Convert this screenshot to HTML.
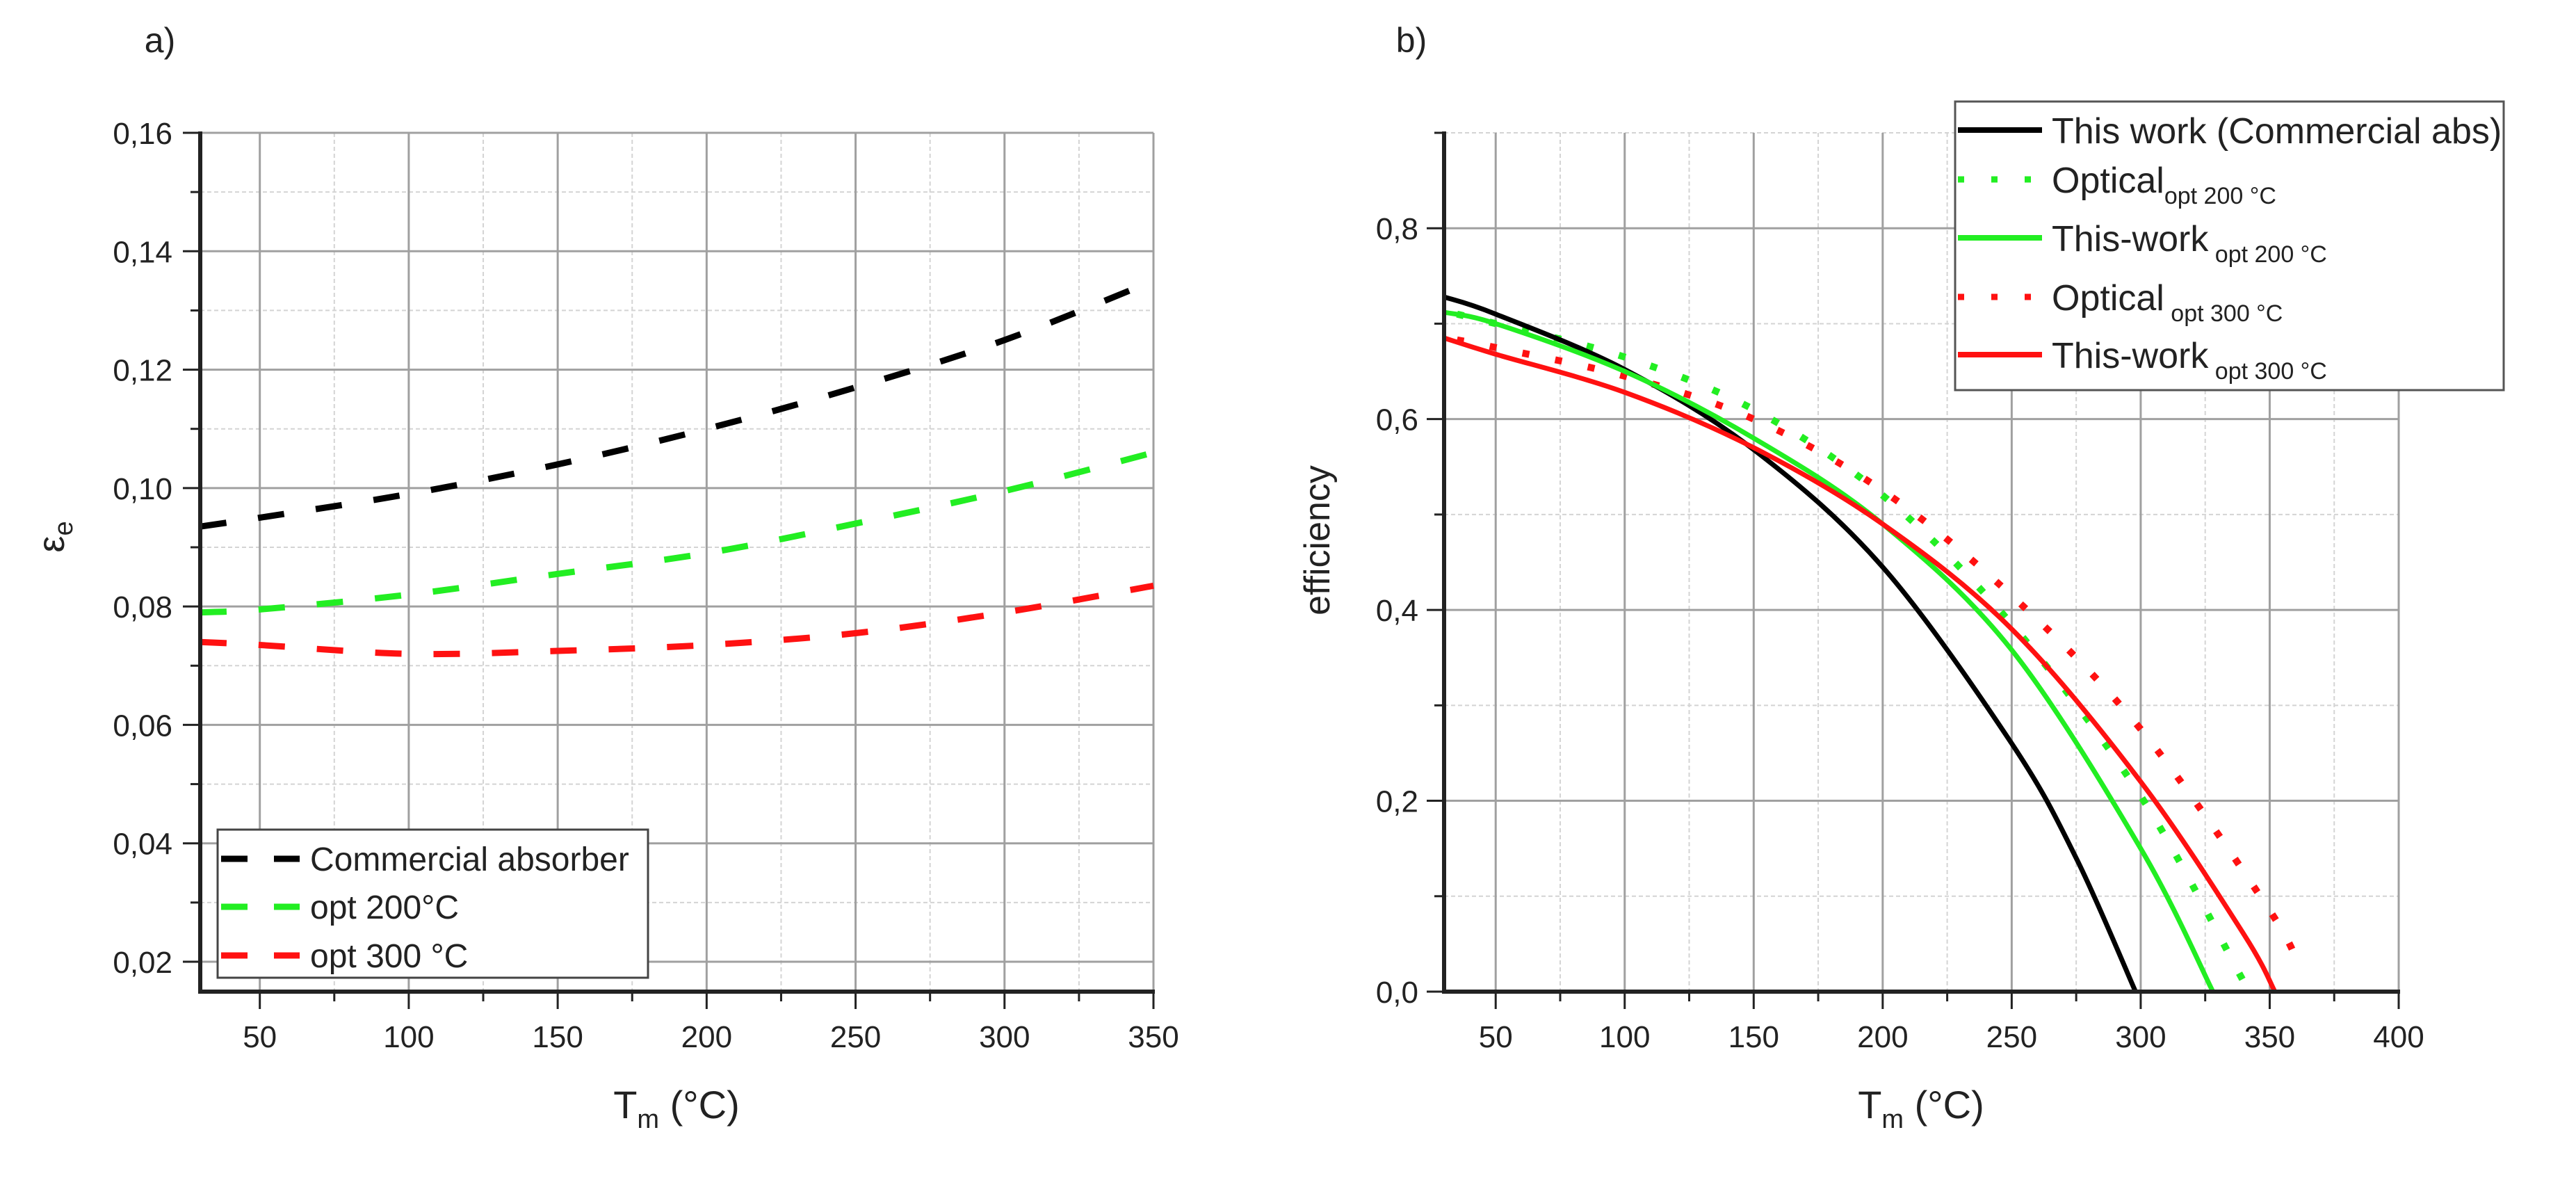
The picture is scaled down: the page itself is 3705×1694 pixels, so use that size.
<!DOCTYPE html>
<html><head><meta charset="utf-8">
<style>
html,body{margin:0;padding:0;background:#fff;}
svg{display:block;font-family:"Liberation Sans",Arial,sans-serif;}
</style></head>
<body>
<svg id="fig" width="3705" height="1694" viewBox="0 0 3705 1694" xmlns="http://www.w3.org/2000/svg">
<rect width="3705" height="1694" fill="#fff"/>
<g id="pa"></g>
<g id="pb"></g>
</svg>
<script>
// Panel a data
const aX = [30, 50, 100, 150, 200, 250, 300, 350];
const aCommercial = [0.0935, 0.095, 0.099, 0.104, 0.110, 0.117, 0.125, 0.135];
const aOpt200 = [0.079, 0.0795, 0.082, 0.0855, 0.089, 0.094, 0.0995, 0.106];
const aOpt300 = [0.074, 0.0735, 0.072, 0.0725, 0.0735, 0.0755, 0.079, 0.0835];
const aXTicks = [50, 100, 150, 200, 250, 300, 350];
const aYTicks = [0.02, 0.04, 0.06, 0.08, 0.10, 0.12, 0.14, 0.16];
const aYLabels = ["0,02", "0,04", "0,06", "0,08", "0,10", "0,12", "0,14", "0,16"];

// Panel b data
const bBlackX = [30, 50, 100, 150, 200, 250, 275, 298];
const bBlackY = [0.728, 0.710, 0.652, 0.568, 0.445, 0.260, 0.140, 0.0];
const bGreenX = [30, 50, 100, 150, 200, 250, 300, 328];
const bGreenY = [0.712, 0.700, 0.650, 0.580, 0.490, 0.358, 0.150, 0.0];
const bRedX = [30, 50, 100, 150, 200, 250, 300, 340, 352];
const bRedY = [0.685, 0.668, 0.628, 0.570, 0.490, 0.380, 0.220, 0.060, 0.0];
const bGreenDotX = [35, 50, 100, 150, 200, 250, 300, 340];
const bGreenDotY = [0.710, 0.700, 0.665, 0.610, 0.520, 0.385, 0.205, 0.010];
const bRedDotX = [35, 50, 100, 150, 200, 250, 300, 350, 362];
const bRedDotY = [0.683, 0.675, 0.645, 0.600, 0.525, 0.415, 0.275, 0.085, 0.022];
const bXTicks = [50, 100, 150, 200, 250, 300, 350, 400];
const bYTicks = [0.0, 0.2, 0.4, 0.6, 0.8];
const bYLabels = ["0,0", "0,2", "0,4", "0,6", "0,8"];

const NS = "http://www.w3.org/2000/svg";
function mk(parent, tag, attrs, text) {
  const e = document.createElementNS(NS, tag);
  for (const k in attrs) e.setAttribute(k, attrs[k]);
  if (text !== undefined) e.textContent = text;
  parent.appendChild(e);
  return e;
}
function smoothPath(xs, ys, sx, sy) {
  const p = xs.map((x, i) => [sx(x), sy(ys[i])]);
  let d = "M" + p[0][0].toFixed(1) + "," + p[0][1].toFixed(1);
  for (let i = 0; i < p.length - 1; i++) {
    const p0 = p[i - 1] || p[i], p1 = p[i], p2 = p[i + 1], p3 = p[i + 2] || p[i + 1];
    const c1 = [p1[0] + (p2[0] - p0[0]) / 6, p1[1] + (p2[1] - p0[1]) / 6];
    const c2 = [p2[0] - (p3[0] - p1[0]) / 6, p2[1] - (p3[1] - p1[1]) / 6];
    d += " C" + c1[0].toFixed(1) + "," + c1[1].toFixed(1) + " " + c2[0].toFixed(1) + "," + c2[1].toFixed(1) + " " + p2[0].toFixed(1) + "," + p2[1].toFixed(1);
  }
  return d;
}

// ---------- Panel a ----------
(function () {
  const g = document.getElementById("pa");
  const L = 288, R = 1659, T = 191, B = 1426;
  const xmin = 30, xmax = 350, ymin = 0.01495, ymax = 0.16;
  const sx = v => L + (v - xmin) / (xmax - xmin) * (R - L);
  const sy = v => B - (v - ymin) / (ymax - ymin) * (B - T);
  const grid = mk(g, "g", {});
  
  
  for (let v = 75; v <= 325; v += 50) mk(grid, "line", {x1: sx(v), x2: sx(v), y1: T, y2: B, stroke: "#d4d4d4", "stroke-width": 2, "stroke-dasharray": "6 4"});
  for (let v = 0.03; v < 0.16; v += 0.02) mk(grid, "line", {x1: L, x2: R, y1: sy(v), y2: sy(v), stroke: "#d4d4d4", "stroke-width": 2, "stroke-dasharray": "6 4"});
  aXTicks.forEach(v => mk(grid, "line", {x1: sx(v), x2: sx(v), y1: T, y2: B, stroke: "#a0a0a0", "stroke-width": 3}));
  aYTicks.forEach(v => mk(grid, "line", {x1: L, x2: R, y1: sy(v), y2: sy(v), stroke: "#a0a0a0", "stroke-width": 3}));

  const series = [[aCommercial, "#000000", "series-commercial-absorber"], [aOpt200, "#22ee22", "series-opt-200"], [aOpt300, "#ff1111", "series-opt-300"]];
  series.forEach(s => {
    const p = mk(g, "path", {d: smoothPath(aX, s[0], sx, sy), fill: "none", stroke: s[1], "stroke-width": 9, "stroke-dasharray": "38 46"});
    
    
  });

  // axes
  mk(g, "line", {x1: L, x2: L, y1: T - 2, y2: B + 3, stroke: "#222", "stroke-width": 6});
  mk(g, "line", {x1: L - 3, x2: R + 2, y1: B, y2: B, stroke: "#222", "stroke-width": 6});
  for (let v = 75; v <= 325; v += 50) mk(g, "line", {x1: sx(v), x2: sx(v), y1: B, y2: B + 14, stroke: "#222", "stroke-width": 3});
  for (let v = 0.03; v < 0.16; v += 0.02) mk(g, "line", {x1: L - 14, x2: L, y1: sy(v), y2: sy(v), stroke: "#222", "stroke-width": 3});
  aXTicks.forEach(v => {
    mk(g, "line", {x1: sx(v), x2: sx(v), y1: B, y2: B + 25, stroke: "#222", "stroke-width": 3});
    const t = mk(g, "text", {x: sx(v), y: 1506, "font-size": 44, "text-anchor": "middle", fill: "#222"}, String(v));
    
    
  });
  aYTicks.forEach((v, i) => {
    mk(g, "line", {x1: L - 25, x2: L, y1: sy(v), y2: sy(v), stroke: "#222", "stroke-width": 3});
    const t = mk(g, "text", {x: 248, y: sy(v) + 16, "font-size": 44, "text-anchor": "end", fill: "#222"}, aYLabels[i]);
    
    
  });
})();

// ---------- Panel b ----------
(function () {
  const g = document.getElementById("pb");
  const L = 2077, R = 3450, T = 191, B = 1426;
  const xmin = 30, xmax = 400, ymin = 0, ymax = 0.9;
  const sx = v => L + (v - xmin) / (xmax - xmin) * (R - L);
  const sy = v => B - (v - ymin) / (ymax - ymin) * (B - T);
  const grid = mk(g, "g", {});
  
  
  for (let v = 75; v <= 375; v += 50) mk(grid, "line", {x1: sx(v), x2: sx(v), y1: T, y2: B, stroke: "#d4d4d4", "stroke-width": 2, "stroke-dasharray": "6 4"});
  for (let v = 0.1; v < 0.9; v += 0.2) mk(grid, "line", {x1: L, x2: R, y1: sy(v), y2: sy(v), stroke: "#d4d4d4", "stroke-width": 2, "stroke-dasharray": "6 4"});
  bXTicks.forEach(v => mk(grid, "line", {x1: sx(v), x2: sx(v), y1: T, y2: B, stroke: "#a0a0a0", "stroke-width": 3}));
  bYTicks.forEach(v => mk(grid, "line", {x1: L, x2: R, y1: sy(v), y2: sy(v), stroke: "#a0a0a0", "stroke-width": 3}));

  const curves = [
    [bGreenDotX, bGreenDotY, "#22ee22", true, "series-optical-opt200"],
    [bRedDotX, bRedDotY, "#ff1111", true, "series-optical-opt300"],
    [bBlackX, bBlackY, "#000000", false, "series-this-work-commercial"],
    [bGreenX, bGreenY, "#22ee22", false, "series-this-work-opt200"],
    [bRedX, bRedY, "#ff1111", false, "series-this-work-opt300"]
  ];
  curves.forEach(c => {
    const attrs = {d: smoothPath(c[0], c[1], sx, sy), fill: "none", stroke: c[2], "stroke-width": c[3] ? 10 : 7};
    if (c[3]) attrs["stroke-dasharray"] = "10 38";
    const p = mk(g, "path", attrs);
    
    
  });

  mk(g, "line", {x1: L, x2: L, y1: T - 2, y2: B + 3, stroke: "#222", "stroke-width": 6});
  mk(g, "line", {x1: L - 3, x2: R + 2, y1: B, y2: B, stroke: "#222", "stroke-width": 6});
  for (let v = 75; v <= 375; v += 50) mk(g, "line", {x1: sx(v), x2: sx(v), y1: B, y2: B + 14, stroke: "#222", "stroke-width": 3});
  for (let v = 0.1; v < 0.9; v += 0.2) mk(g, "line", {x1: L - 14, x2: L, y1: sy(v), y2: sy(v), stroke: "#222", "stroke-width": 3});
  bXTicks.forEach(v => {
    mk(g, "line", {x1: sx(v), x2: sx(v), y1: B, y2: B + 25, stroke: "#222", "stroke-width": 3});
    const t = mk(g, "text", {x: sx(v), y: 1506, "font-size": 44, "text-anchor": "middle", fill: "#222"}, String(v));
    
    
  });
  bYTicks.forEach((v, i) => {
    mk(g, "line", {x1: L - 25, x2: L, y1: sy(v), y2: sy(v), stroke: "#222", "stroke-width": 3});
    const t = mk(g, "text", {x: 2040, y: sy(v) + 16, "font-size": 44, "text-anchor": "end", fill: "#222"}, bYLabels[i]);
    
    
  });
})();
</script>
<svg width="3705" height="1694" viewBox="0 0 3705 1694" style="position:absolute;left:0;top:0;font-family:'Liberation Sans',Arial,sans-serif">
  <text x="230" y="75" font-size="50" text-anchor="middle" fill="#222">a)</text>
  <text x="2030" y="75" font-size="50" text-anchor="middle" fill="#222">b)</text>
  <text x="0" y="0" font-size="54" fill="#222" text-anchor="middle" transform="translate(92,772) rotate(-90)">ε<tspan font-size="38" dy="12">e</tspan></text>
  <text x="0" y="0" font-size="52" fill="#222" text-anchor="middle" transform="translate(1912,777) rotate(-90)">efficiency</text>
  <text x="973" y="1608" font-size="56" fill="#222" text-anchor="middle">T<tspan font-size="38" dy="14">m</tspan><tspan dy="-14"> (°C)</tspan></text>
  <text x="2763" y="1608" font-size="56" fill="#222" text-anchor="middle">T<tspan font-size="38" dy="14">m</tspan><tspan dy="-14"> (°C)</tspan></text>

  <g>
    <rect x="313" y="1193" width="619" height="213" fill="#fff" stroke="#444" stroke-width="3"/>
    <g>
      <line x1="318" x2="431" y1="1235" y2="1235" stroke="#000" stroke-width="9" stroke-dasharray="38 38"/>
      <text x="446" y="1252" font-size="48" fill="#222">Commercial absorber</text>
    </g>
    <g>
      <line x1="318" x2="431" y1="1304" y2="1304" stroke="#22ee22" stroke-width="9" stroke-dasharray="38 38"/>
      <text x="446" y="1321" font-size="48" fill="#222">opt 200°C</text>
    </g>
    <g>
      <line x1="318" x2="431" y1="1374" y2="1374" stroke="#ff1111" stroke-width="9" stroke-dasharray="38 38"/>
      <text x="446" y="1391" font-size="48" fill="#222">opt 300 °C</text>
    </g>
  </g>

  <g>
    <rect x="2812" y="146" width="789" height="415" fill="#fff" stroke="#555" stroke-width="3"/>
    <g>
      <line x1="2816" x2="2937" y1="187" y2="187" stroke="#000" stroke-width="8"/>
      <text x="2951" y="206" font-size="52" fill="#222">This work (Commercial abs)</text>
    </g>
    <g>
      <line x1="2816" x2="2937" y1="258" y2="258" stroke="#22ee22" stroke-width="9" stroke-dasharray="9 39"/>
      <text x="2951" y="277" font-size="52" fill="#222">Optical<tspan font-size="34" dy="16">opt 200 °C</tspan></text>
    </g>
    <g>
      <line x1="2816" x2="2937" y1="342" y2="342" stroke="#22ee22" stroke-width="8"/>
      <text x="2951" y="361" font-size="52" fill="#222">This-work<tspan font-size="34" dy="16"> opt 200 °C</tspan></text>
    </g>
    <g>
      <line x1="2816" x2="2937" y1="427" y2="427" stroke="#ff1111" stroke-width="9" stroke-dasharray="9 39"/>
      <text x="2951" y="446" font-size="52" fill="#222">Optical<tspan font-size="34" dy="16"> opt 300 °C</tspan></text>
    </g>
    <g>
      <line x1="2816" x2="2937" y1="510" y2="510" stroke="#ff1111" stroke-width="8"/>
      <text x="2951" y="529" font-size="52" fill="#222">This-work<tspan font-size="34" dy="16"> opt 300 °C</tspan></text>
    </g>
  </g>
</svg>
</body></html>
